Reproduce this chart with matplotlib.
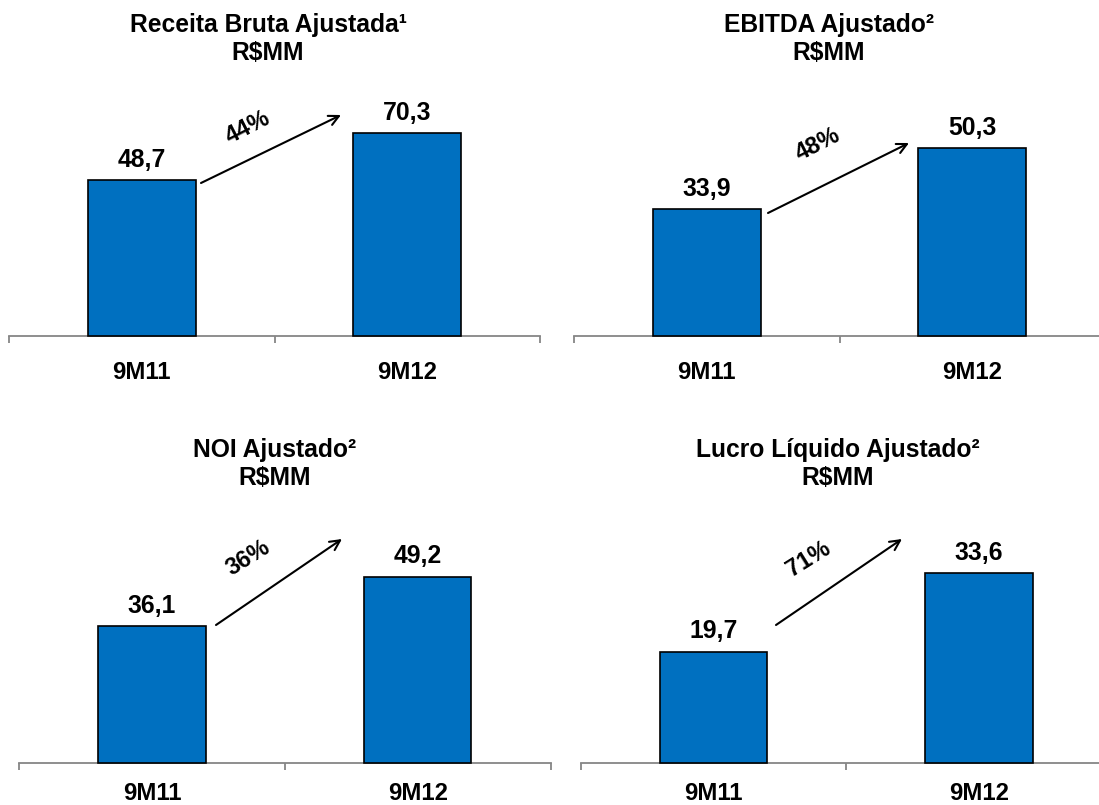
import numpy as np
import matplotlib
matplotlib.use("Agg")
import matplotlib.pyplot as plt

# ---------------- data ----------------
categories = ["9M11", "9M12"]
titles = ["Receita Bruta Ajustada¹", "EBITDA Ajustado²", "NOI Ajustado²", "Lucro Líquido Ajustado²"]
unit = "R$MM"
receita = [48.7, 70.3]
ebitda = [33.9, 50.3]
noi = [36.1, 49.2]
lucro = [19.7, 33.6]
growth = ["44%", "48%", "36%", "71%"]
series = [receita, ebitda, noi, lucro]

# ---------------- layout (pixels, top-left origin) ----------------
W, H = 1099, 805
layout = [
    dict(left=9, right=540, axis_y=336, top=100, ylim=(-22.5, 85.3), pad=18,
         tx=268, tb=(31.7, 60.0), a0=(201, 183), a1=(341, 115), pct=(248, 127), rot=27),
    dict(left=574, right=1105, axis_y=336, top=100, ylim=(0, 63.1), pad=18,
         tx=829, tb=(31.7, 60.0), a0=(768, 213), a1=(909, 143), pct=(818, 144), rot=27),
    dict(left=19, right=550.5, axis_y=763, top=530, ylim=(0, 61.5), pad=13.5,
         tx=275, tb=(456.7, 485.0), a0=(216, 625), a1=(342, 539), pct=(248, 558), rot=32),
    dict(left=580.5, right=1112, axis_y=763, top=530, ylim=(0, 41.2), pad=13.5,
         tx=838, tb=(456.7, 485.0), a0=(776, 625), a1=(902, 539), pct=(809, 559), rot=32),
]

BLUE = "#0070C0"
GRAY = "#868686"
FS_TITLE = 17.7
FS_VAL = 17.8
FS_TICK = 17.2
FS_PCT = 17

plt.rcParams["font.family"] = ["Liberation Sans", "DejaVu Sans"]
plt.rcParams["font.weight"] = "bold"

fig = plt.figure(figsize=(W / 100, H / 100), dpi=100)


def fx(px):
    return px / W


def fy(py):
    return 1 - py / H


for vals, title, pct, L in zip(series, titles, growth, layout):
    ax = fig.add_axes([fx(L["left"]), fy(L["axis_y"]),
                       (L["right"] - L["left"]) / W, (L["axis_y"] - L["top"]) / H])
    ax.set_facecolor("none")
    v0, v1 = L["ylim"]
    x = np.arange(len(categories))
    ax.bar(x, np.array(vals) - v0, bottom=v0, width=0.405, color=BLUE,
           edgecolor="black", linewidth=1.2, zorder=3, clip_on=False)
    ax.set_xlim(-0.5, 1.5)
    ax.set_ylim(v0, v1)
    for s in ("top", "left", "right"):
        ax.spines[s].set_visible(False)
    ax.spines["bottom"].set_color(GRAY)
    ax.spines["bottom"].set_linewidth(1.3)
    ax.spines["bottom"].set_zorder(2)
    ax.set_yticks([])
    ax.set_xticks(x, labels=categories)
    ax.set_xticks([-0.5, 0.5, 1.5], minor=True)
    ax.tick_params(axis="x", which="major", length=0, pad=L["pad"], labelsize=FS_TICK)
    ax.tick_params(axis="x", which="minor", length=5, width=1.3, color=GRAY,
                   direction="out")
    for xi, v in zip(x, vals):
        ax.annotate(f"{v:.1f}".replace(".", ","), xy=(xi, v), xytext=(0, 9.5),
                    textcoords="offset points", ha="center", va="baseline",
                    fontsize=FS_VAL, fontweight="bold", color="black")

    # titles
    fig.text(fx(L["tx"]), fy(L["tb"][0]), title, ha="center", va="baseline",
             fontsize=FS_TITLE, fontweight="bold")
    fig.text(fx(L["tx"]), fy(L["tb"][1]), unit, ha="center", va="baseline",
             fontsize=FS_TITLE, fontweight="bold")

    # growth arrow and label
    fig.add_artist(matplotlib.patches.FancyArrowPatch(
        (fx(L["a0"][0]), fy(L["a0"][1])), (fx(L["a1"][0]), fy(L["a1"][1])),
        transform=fig.transFigure, arrowstyle="->", mutation_scale=18,
        linewidth=1.5, color="black", shrinkA=0, shrinkB=0))
    fig.text(fx(L["pct"][0]), fy(L["pct"][1]), pct, ha="center", va="center",
             rotation=L["rot"], rotation_mode="anchor", fontsize=FS_PCT,
             fontweight="bold")

fig.savefig("out.png", dpi=100, facecolor="white")
